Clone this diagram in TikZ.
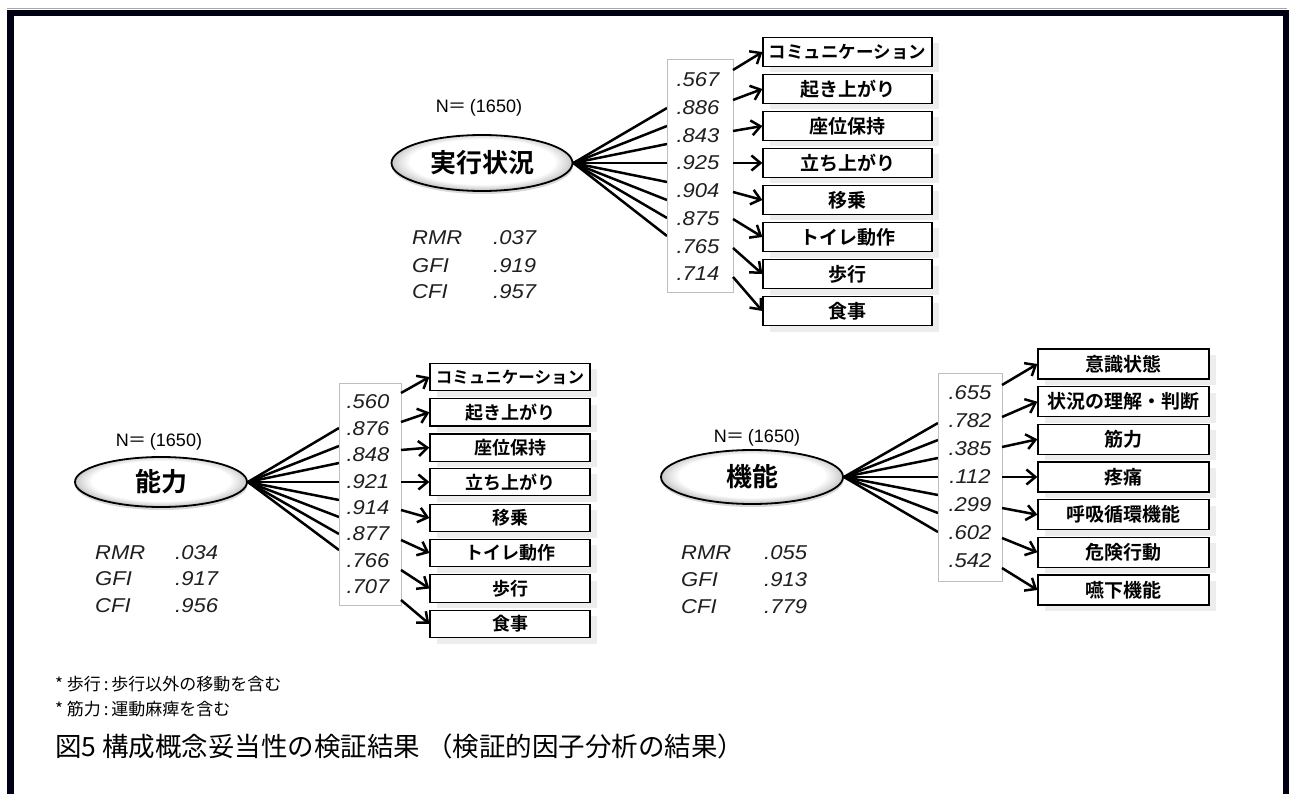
\documentclass[tikz,border=0pt]{standalone}
\usepackage{fontspec}
\setmainfont{Liberation Sans}
\newfontfamily\jp{Noto Sans CJK JP}[BoldFont={Noto Sans CJK JP Bold}]
\newfontfamily\numf{Liberation Sans}[FakeStretch=1.1]
\usetikzlibrary{shapes.geometric,shadows,calc,arrows.meta}
\newcommand\kata[1]{{\fontsize{17.5}{17.5}\selectfont #1}}
\newcommand\katb[1]{{\fontsize{16.5}{16.5}\selectfont #1}}
\newcommand\nlab{{\fontsize{18}{18}\selectfont N{\jp ＝}\,(1650)}}
\pgfdeclareradialshading{ellwhite}{\pgfpoint{0bp}{2bp}}{color(0bp)=(white); color(20bp)=(white); color(23bp)=(gray!25); color(26bp)=(gray!55); color(50bp)=(gray!55)}
\begin{document}
\begin{tikzpicture}[x=1pt,y=-1pt,
  latent/.style={ellipse, draw=black, line width=1.8, shading=ellwhite,
    drop shadow={shadow xshift=0.5pt, shadow yshift=-3pt, opacity=0.3},
    font=\jp\bfseries\fontsize{26}{26}\selectfont, inner sep=0},
  indbox/.style={draw=black, line width=1.3, fill=white, inner sep=0,
    general shadow={fill=gray!14, shadow xshift=7pt, shadow yshift=-6pt}},
  loadbox/.style={draw=gray!50, line width=0.8, fill=white, inner sep=0},
  num/.style={font=\numf\itshape\fontsize{20}{20}\selectfont, inner sep=0, text=black!88},
  stat/.style={font=\numf\itshape\fontsize{20}{20}\selectfont, inner sep=0, anchor=west, text=black!88},
  link/.style={line width=2.5, black},
  arr/.style={line width=2.5, black, -{Straight Barb[length=9pt,width=15pt]}},
  nlabel/.style={inner sep=0},
  note/.style={font=\jp\fontsize{17}{17}\selectfont, inner sep=0, anchor=west},
]
\useasboundingbox (0,0) rectangle (1289,794);
\fill[white] (0,0) rectangle (1289,794);
% frame
\draw[gray!70, line width=1] (7,8.5) -- (1287,8.5);
\draw[black!92!blue, line width=6.5, line join=miter] (10.5,794) -- (10.5,13) -- (1286.3,13) -- (1286.3,794);

% ===== Model A: 実行状況 =====
\node[nlabel] (nA) at (479,108) {\nlab};
\node[latent, minimum width=181, minimum height=56] (lA) at (482,163) {実行状況};
\foreach \i/\le in {1/108,2/126,3/144,4/163,5/182,6/200,7/218,8/236}{
  \coordinate (eA\i) at (667,\le);
  \draw[link] (lA.east) -- (eA\i);
}
\node[loadbox, minimum width=66, minimum height=233] (bA) at (700,175.5) {};
\foreach \i/\t/\v/\st/\yc/\ny in {
  1/\kata{コミュニケーション}/.567/70/52/80,
  2/起き上がり/.886/100/89/107.7,
  3/座位保持/.843/131/126/135.4,
  4/立ち上がり/.925/163/163/163,
  5/移乗/.904/192/200/190.8,
  6/トイレ動作/.875/219/237/218.5,
  7/歩行/.765/248/274/246.2,
  8/食事/.714/277/311/274}{
  \node[num] (vA\i) at (698,\ny) {\v};
  \node[indbox, minimum width=169, minimum height=29, font=\jp\bfseries\fontsize{19}{19}\selectfont] (iA\i) at (847.5,\yc) {\t};
  \coordinate (sA\i) at (733,\st);
  \draw[arr] (sA\i) -- (iA\i.west);
}
\node[stat] (rA) at (412,238) {RMR};
\node[stat] (gA) at (412,266) {GFI};
\node[stat] (cA) at (412,292) {CFI};
\node[stat] (rvA) at (493,238) {.037};
\node[stat] (gvA) at (493,266) {.919};
\node[stat] (cvA) at (493,292) {.957};

% ===== Model B: 能力 =====
\node[nlabel] (nB) at (159,442) {\nlab};
\node[latent, minimum width=172, minimum height=50] (lB) at (161,482) {能力};
\foreach \i/\le in {1/428,2/446,3/463,4/482,5/500,6/517,7/534,8/550}{
  \coordinate (eB\i) at (339,\le);
  \draw[link] (lB.east) -- (eB\i);
}
\node[loadbox, minimum width=62, minimum height=222] (bB) at (370,494) {};
\foreach \i/\t/\v/\st/\yc/\ny in {
  1/\katb{コミュニケーション}/.560/393/377/402,
  2/起き上がり/.876/422/412.3/428.4,
  3/座位保持/.848/450/447.6/454.8,
  4/立ち上がり/.921/482/482/481.2,
  5/移乗/.914/510/518/507.6,
  6/トイレ動作/.877/540/553/534,
  7/歩行/.766/570/588.5/560.4,
  8/食事/.707/600/624/586.8}{
  \node[num] (vB\i) at (368,\ny) {\v};
  \node[indbox, minimum width=160, minimum height=27.5, font=\jp\bfseries\fontsize{18}{18}\selectfont] (iB\i) at (510,\yc) {\t};
  \coordinate (sB\i) at (401,\st);
  \draw[arr] (sB\i) -- (iB\i.west);
}
\node[stat] (rB) at (95,553) {RMR};
\node[stat] (gB) at (95,579) {GFI};
\node[stat] (cB) at (95,606) {CFI};
\node[stat] (rvB) at (175,553) {.034};
\node[stat] (gvB) at (175,579) {.917};
\node[stat] (cvB) at (175,606) {.956};

% ===== Model C: 機能 =====
\node[nlabel] (nC) at (757,438) {\nlab};
\node[latent, minimum width=182, minimum height=54] (lC) at (752,477) {機能};
\foreach \i/\le in {1/423,2/440,3/458,4/477,5/495,6/513,7/532}{
  \coordinate (eC\i) at (938,\le);
  \draw[link] (lC.east) -- (eC\i);
}
\node[loadbox, minimum width=64, minimum height=208] (bC) at (970,477) {};
\foreach \i/\t/\v/\st/\yc/\ny in {
  1/意識状態/.655/385/364/393,
  2/状況の理解・判断/.782/417/401.7/421,
  3/筋力/.385/447/439.3/449,
  4/疼痛/.112/477/477/477,
  5/呼吸循環機能/.299/508/514.7/505,
  6/危険行動/.602/538/552.3/533,
  7/嚥下機能/.542/568/590/561}{
  \node[num] (vC\i) at (970,\ny) {\v};
  \node[indbox, minimum width=171, minimum height=30, font=\jp\bfseries\fontsize{19}{19}\selectfont] (iC\i) at (1123.5,\yc) {\t};
  \coordinate (sC\i) at (1002,\st);
  \draw[arr] (sC\i) -- (iC\i.west);
}
\node[stat] (rC) at (681,553) {RMR};
\node[stat] (gC) at (681,580) {GFI};
\node[stat] (cC) at (681,607) {CFI};
\node[stat] (rvC) at (764,553) {.055};
\node[stat] (gvC) at (764,580) {.913};
\node[stat] (cvC) at (764,607) {.779};

% ===== notes and caption =====
\node[note] (note1) at (55,684) {* 歩行\,:\,歩行以外の移動を含む};
\node[note] (note2) at (55,709) {* 筋力\,:\,運動麻痺を含む};
\node[inner sep=0, anchor=west, font=\jp\fontsize{26.5}{26.5}\selectfont] (cap) at (55,746) {図5 構成概念妥当性の検証結果 （検証的因子分析の結果）};
\end{tikzpicture}
\end{document}
